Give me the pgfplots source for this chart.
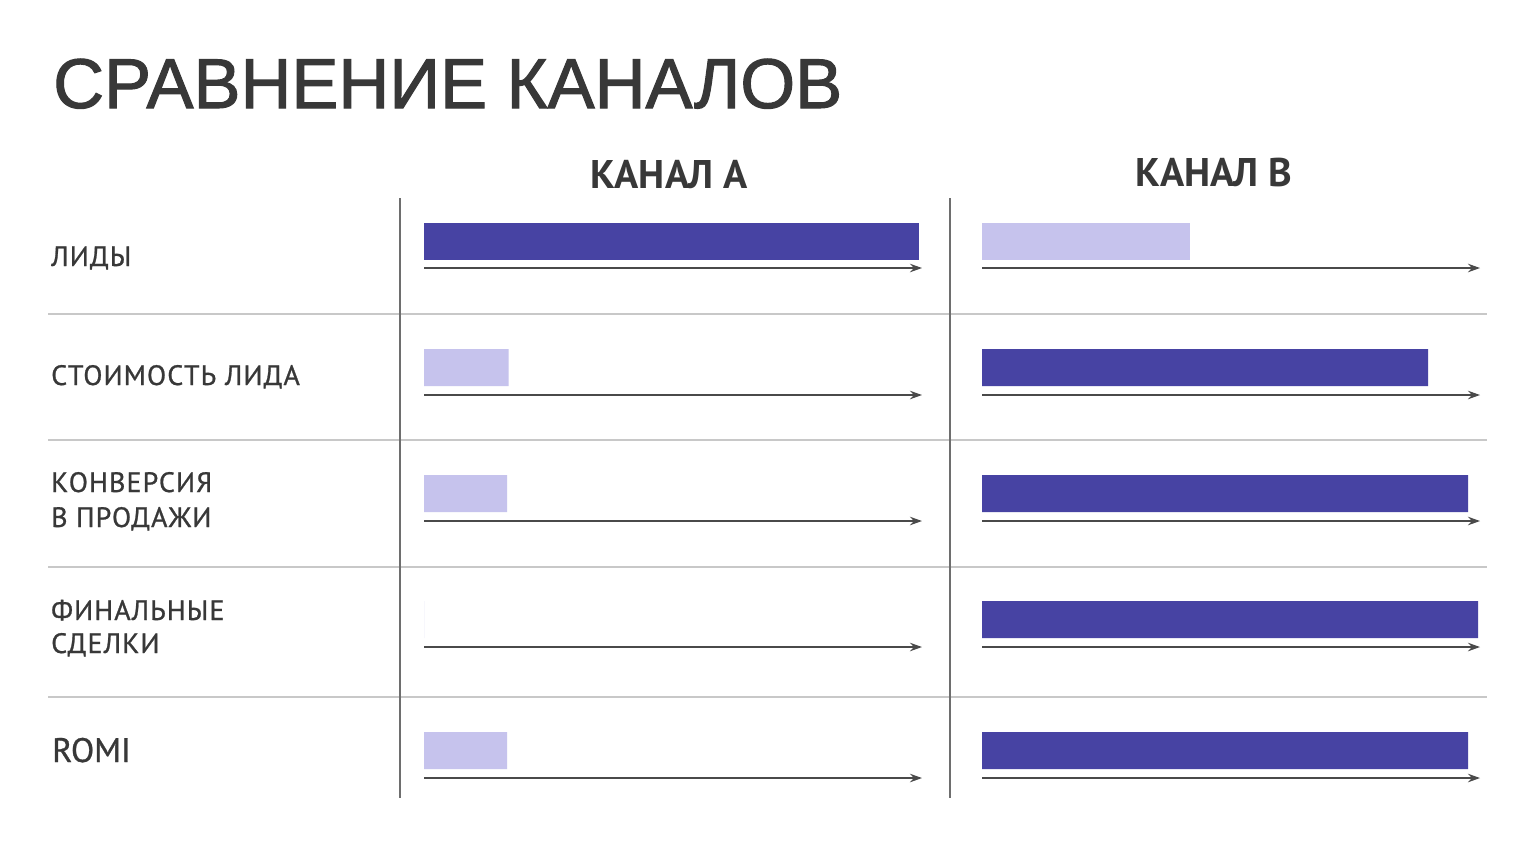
\documentclass[border=0pt]{standalone}
\usepackage{fontspec}
\setmainfont{Liberation Sans}
\newfontfamily\titlefont[FakeBold=1.5]{Liberation Sans}
\newfontfamily\labelfont[LetterSpace=4,FakeBold=0.9]{PT Sans}
\newfontfamily\romifont[FakeBold=0.8]{PT Sans}
\newfontfamily\headfont{PT Sans}
\usepackage{pgfplots}
\pgfplotsset{compat=1.18}
\usetikzlibrary{arrows.meta}
\definecolor{dark}{HTML}{4743A3}
\definecolor{light}{HTML}{C6C3ED}
\definecolor{txt}{HTML}{383838}
\definecolor{arrowc}{HTML}{4A4A4A}
\definecolor{sep}{HTML}{C8C8C8}
\definecolor{vline}{HTML}{6E6E6E}
\tikzset{arr/.style={arrowc, line width=1.3bp, -{Stealth[length=12bp,width=8.5bp]}}}
\pgfplotsset{
  chan/.style={anchor=north west, width=498bp, height=864bp, scale only axis,
    xmin=0, xmax=100, ymin=0, ymax=864, y dir=reverse, hide axis, clip=false},
  darkbar/.style={xbar, bar width=37, bar shift=0pt, fill=dark, draw=none},
  lightbar/.style={xbar, bar width=37, bar shift=0pt, fill=light, draw=none},
}
\begin{document}
\begin{tikzpicture}
\path[use as bounding box, fill=white] (0,0) rectangle (1536bp,-864bp);
\begin{scope}[x=1bp,y=-1bp]
% separators
\foreach \yy in {314,440,567,697}{\draw[sep, line width=1.3bp] (48,\yy) -- (1487,\yy);}
\draw[vline, line width=1.6bp] (400,198) -- (400,798);
\draw[vline, line width=1.6bp] (950,198) -- (950,798);
% title
\node[anchor=base west, inner sep=0pt, text=txt, font=\titlefont\fontsize{70.5bp}{80bp}\selectfont] at (53,108) {СРАВНЕНИЕ КАНАЛОВ};
% headers
\node[anchor=base, inner sep=0pt, text=txt, font=\headfont\bfseries\fontsize{40bp}{44bp}\selectfont] at (669,188) {КАНАЛ А};
\node[anchor=base, inner sep=0pt, text=txt, font=\headfont\bfseries\fontsize{40bp}{44bp}\selectfont] at (1214,186) {КАНАЛ В};
% row labels
\begin{scope}[every node/.style={anchor=base west, inner sep=0pt, text=txt, font=\labelfont\fontsize{28bp}{34bp}\selectfont}]
\node at (51,266) {ЛИДЫ};
\node at (51,385) {СТОИМОСТЬ ЛИДА};
\node at (51,492) {КОНВЕРСИЯ};
\node at (51,527) {В ПРОДАЖИ};
\node at (51,620) {ФИНАЛЬНЫЕ};
\node at (51,653) {СДЕЛКИ};
\end{scope}
\node[anchor=base west, inner sep=0pt, text=txt, font=\romifont\fontsize{34bp}{36bp}\selectfont] at (52,762) {ROMI};
\end{scope}

% Channel A
\begin{axis}[chan, at={(424bp,0bp)}]
\addplot[darkbar] coordinates {(99.4,241.5)};
\addplot[lightbar] coordinates {(17,367.5) (16.7,493.5) (0,619.5) (16.7,750.5)};
\draw[arr] (axis cs:0,268) -- (axis cs:100,268);
\draw[arr] (axis cs:0,395) -- (axis cs:100,395);
\draw[arr] (axis cs:0,521) -- (axis cs:100,521);
\draw[arr] (axis cs:0,647) -- (axis cs:100,647);
\draw[arr] (axis cs:0,778) -- (axis cs:100,778);
\end{axis}

% Channel B
\begin{axis}[chan, at={(982bp,0bp)}]
\addplot[lightbar] coordinates {(41.8,241.5)};
\addplot[darkbar] coordinates {(89.6,367.5) (97.6,493.5) (99.6,619.5) (97.6,750.5)};
\draw[arr] (axis cs:0,268) -- (axis cs:100,268);
\draw[arr] (axis cs:0,395) -- (axis cs:100,395);
\draw[arr] (axis cs:0,521) -- (axis cs:100,521);
\draw[arr] (axis cs:0,647) -- (axis cs:100,647);
\draw[arr] (axis cs:0,778) -- (axis cs:100,778);
\end{axis}
\end{tikzpicture}
\end{document}
